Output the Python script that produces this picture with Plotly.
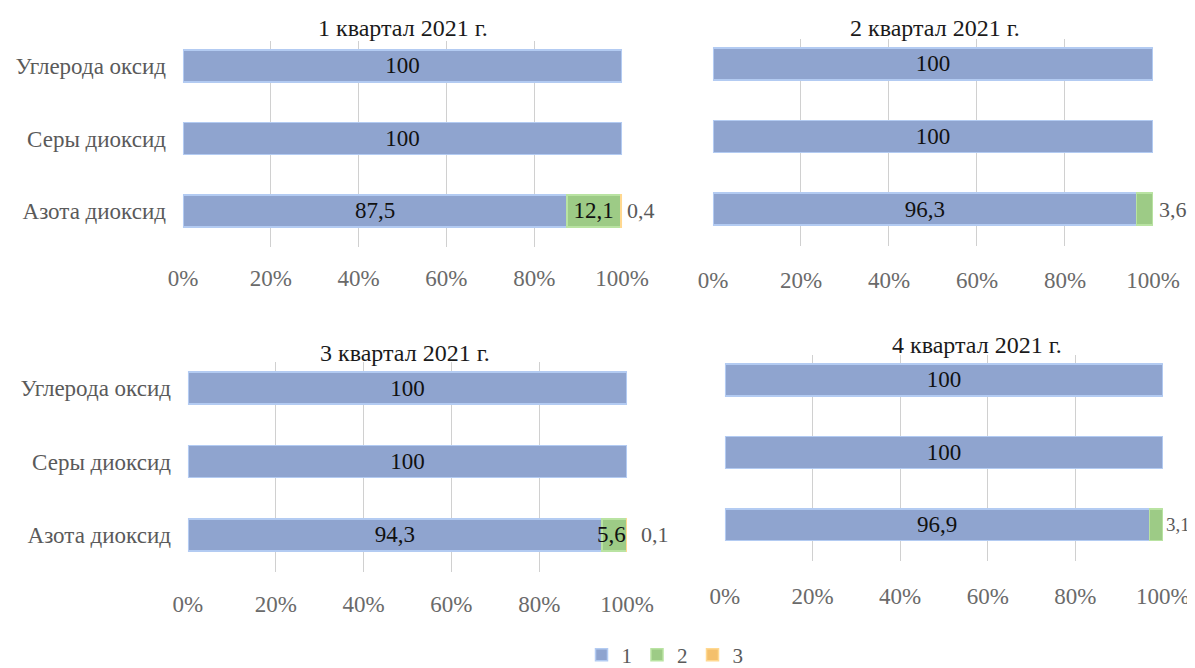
import plotly.graph_objects as go

categories = ["Углерода оксид", "Серы диоксид", "Азота диоксид"]
titles = ["1 квартал 2021 г.", "2 квартал 2021 г.", "3 квартал 2021 г.", "4 квартал 2021 г."]
series_names = ["1", "2", "3"]

s1 = [[100, 100, 87.5], [100, 100, 96.3], [100, 100, 94.3], [100, 100, 96.9]]
s2 = [[0, 0, 12.1], [0, 0, 3.6], [0, 0, 5.6], [0, 0, 3.1]]
s3 = [[0, 0, 0.4], [0, 0, 0], [0, 0, 0.1], [0, 0, 0]]

# where the small-segment labels go, per quarter
green_mode = ["inside", "outside", "center", "outside"]
orange_mode = ["outside", None, "outside", None]
outside_shift = [3, 4, 12, 1]
outside_size = [22, 22, 22, 19]

tick_vals = [0, 20, 40, 60, 80, 100]
tick_text = ["0%", "20%", "40%", "60%", "80%", "100%"]

fills = ["#8fa4cf", "#9dcb86", "#f4c06c"]
edges = ["#b3cbf2", "#b9e3a2", "#ffd890"]

# figure sits at an 8px body offset in the page; lower part beyond the window is blank
W, H = 1187, 680
xdom = [(0.1474, 0.5173), (0.5939, 0.9646), (0.1516, 0.5215), (0.6040, 0.9730)]
ydom = [(0.6482, 0.9521), (0.6507, 0.9551), (0.1710, 0.4790), (0.1868, 0.4903)]
title_pos = [(0.3328, 0.9706), (0.781, 0.9706), (0.3345, 0.4926), (0.8163, 0.5044)]
standoffs = [15, 18, 16, 19]

SERIF = "Liberation Serif"
FS = 23


def fmt(v):
    if v == 0:
        return ""
    if float(v).is_integer():
        return str(int(v))
    return ("%.1f" % v).replace(".", ",")


fig = go.Figure()
annotations = []
layout = {}

for q in range(4):
    ax = "" if q == 0 else str(q + 1)
    xa, ya = "x" + ax, "y" + ax
    data = [s1[q], s2[q], s3[q]]
    for k in range(3):
        vals = [v if v > 0 else None for v in data[k]]
        if k == 0:
            txt = [fmt(v) for v in data[0]]
        elif k == 1 and green_mode[q] == "inside":
            txt = [fmt(v) for v in data[1]]
        else:
            txt = None
        fig.add_trace(go.Bar(
            x=vals, y=categories, orientation="h", name=series_names[k],
            marker=dict(color=fills[k], line=dict(color=edges[k], width=1.5)),
            text=txt, textposition="inside", insidetextanchor="middle",
            textfont=dict(family=SERIF, size=FS, color="#111111"),
            xaxis=xa, yaxis=ya, showlegend=(q == 0), legendgroup=series_names[k],
            hoverinfo="x+y+name",
        ))
    for i, cat in enumerate(categories):
        g = s2[q][i]
        o = s3[q][i]
        b = s1[q][i]
        if g > 0 and green_mode[q] == "center":
            annotations.append(dict(x=b + g / 2, y=cat, xref=xa, yref=ya, text=fmt(g),
                                    showarrow=False, xanchor="center", xshift=-3,
                                    font=dict(family=SERIF, size=FS, color="#111111")))
        if g > 0 and green_mode[q] == "outside":
            annotations.append(dict(x=b + g + o, y=cat, xref=xa, yref=ya, text=fmt(g),
                                    showarrow=False, xanchor="left", xshift=outside_shift[q],
                                    font=dict(family=SERIF, size=outside_size[q], color="#595959")))
        if o > 0 and orange_mode[q] == "outside":
            annotations.append(dict(x=b + g + o, y=cat, xref=xa, yref=ya, text=fmt(o),
                                    showarrow=False, xanchor="left", xshift=outside_shift[q],
                                    font=dict(family=SERIF, size=outside_size[q], color="#595959")))
    annotations.append(dict(x=title_pos[q][0], y=title_pos[q][1], xref="paper", yref="paper",
                            text=titles[q], showarrow=False, xanchor="center", yanchor="middle",
                            font=dict(family=SERIF, size=FS + 1, color="#1a1a1a")))

    layout["xaxis" + ax] = dict(
        domain=list(xdom[q]), anchor=ya, range=[0, 100], automargin=False,
        tickvals=tick_vals, ticktext=tick_text,
        showgrid=True, gridcolor="#d0d0d0", gridwidth=1.3, zeroline=False,
        showline=False, ticks="", ticklabelstandoff=standoffs[q],
        tickfont=dict(family=SERIF, size=FS, color="#6a6a6a"),
    )
    layout["yaxis" + ax] = dict(
        domain=list(ydom[q]), anchor=xa, type="category", automargin=False,
        categoryorder="array", categoryarray=categories[::-1],
        range=[-0.5, 2.35], showgrid=False, zeroline=False, showline=False,
        ticks="", showticklabels=(q in (0, 2)), ticklabelstandoff=16,
        tickfont=dict(family=SERIF, size=FS, color="#5a5a5a"),
    )

fig.update_layout(
    **layout,
    barmode="stack", bargap=0.56,
    width=W, height=H,
    margin=dict(l=0, r=0, t=0, b=0),
    paper_bgcolor="white", plot_bgcolor="white",
    annotations=annotations,
    showlegend=True,
    legend=dict(orientation="h", x=0.5535, xanchor="center", y=0.0485, yanchor="middle",
                font=dict(family=SERIF, size=21, color="#5a5a5a"),
                itemwidth=30, tracegroupgap=0),
)

fig.write_html("out.html")
